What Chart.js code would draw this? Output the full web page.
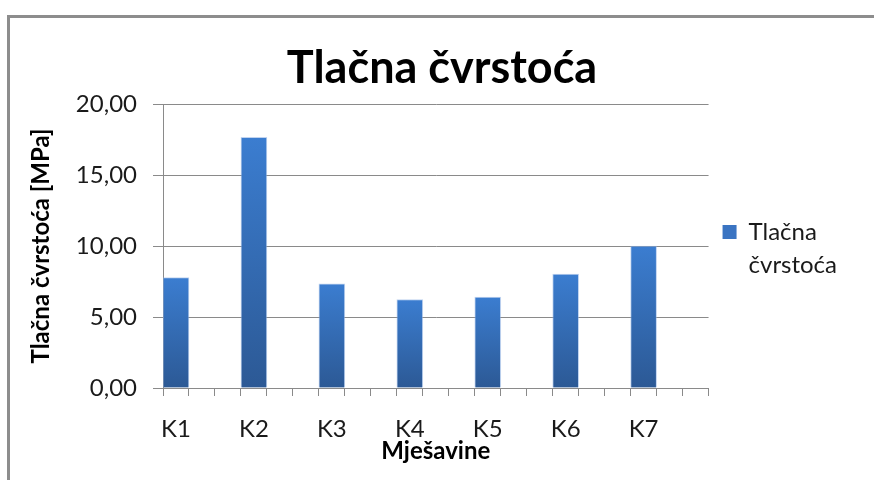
<!DOCTYPE html>
<html>
<head>
<meta charset="utf-8">
<script src="https://cdn.jsdelivr.net/npm/chart.js@4/dist/chart.umd.min.js"></script>
<style>
  html, body { margin: 0; padding: 0; background: #fff; overflow: hidden; }
  #frame {
    position: absolute; left: 7px; top: 15px;
    width: 900px; height: 500px;
    border: 3px solid #8d8d8d; box-sizing: border-box;
  }
  #c { position: absolute; left: 0; top: 0; }
</style>
</head>
<body>
<div id="frame"></div>
<canvas id="c" width="874" height="480"></canvas>
<script>
// Compressive strength per mix [MPa]
const mixes = ['K1', 'K2', 'K3', 'K4', 'K5', 'K6', 'K7'];
const strength = [7.77, 17.65, 7.34, 6.23, 6.40, 8.02, 10.00];
const yTicks = [0, 5, 10, 15, 20];
const seriesName = 'Tlačna čvrstoća';

// Each mix is followed by two empty category slots on the axis
const slotLabels = mixes.flatMap(m => [m, '', '']);
const slotValues = strength.flatMap(v => [v, null, null]);

const FONT = 'Lato';
const GRID = '#8a8a8a';

function barGradient(ctx) {
  const chart = ctx.chart;
  const y = chart.scales && chart.scales.y;
  if (!chart.chartArea || !y || ctx.parsed == null || ctx.parsed.y == null) return '#3a73c0';
  const top = y.getPixelForValue(ctx.parsed.y);
  const base = y.getPixelForValue(0);
  const g = chart.ctx.createLinearGradient(0, top, 0, base);
  g.addColorStop(0, '#3b7dd0');
  g.addColorStop(1, '#2c5995');
  return g;
}

new Chart(document.getElementById('c'), {
  type: 'bar',
  data: {
    labels: slotLabels,
    datasets: [{
      label: seriesName,
      data: slotValues,
      backgroundColor: barGradient,
      borderColor: 'rgba(140,175,225,0.55)',
      borderWidth: 1,
      categoryPercentage: 1,
      barPercentage: 1
    }]
  },
  options: {
    responsive: false,
    devicePixelRatio: 1,
    animation: false,
    layout: { padding: { left: 37, right: 27, top: 0, bottom: 0 } },
    plugins: {
      tooltip: { enabled: false },
      title: {
        display: true,
        text: seriesName,
        color: '#000',
        font: { family: FONT, size: 45, weight: 'bold', lineHeight: 1.2 },
        padding: { top: 41, bottom: 9 }
      },
      legend: {
        position: 'right',
        // empty spacer title pushes the legend entry slightly lower
        title: {
          display: true,
          text: '',
          font: { family: FONT, size: 1, lineHeight: 1.2 },
          padding: { top: 0, bottom: 26 }
        },
        labels: {
          color: '#1a1a1a',
          font: { family: FONT, size: 24, lineHeight: 1.4 },
          boxWidth: 14,
          boxHeight: 14,
          padding: 14,
          generateLabels(chart) {
            const items = Chart.defaults.plugins.legend.labels.generateLabels(chart);
            return items.map(it => Object.assign(it, {
              text: it.text.split(' '),
              fillStyle: '#3a74c2',
              strokeStyle: '#3a74c2',
              lineWidth: 0
            }));
          }
        }
      }
    },
    scales: {
      x: {
        offset: true,
        grid: {
          offset: true,
          drawOnChartArea: false,
          drawTicks: true,
          tickLength: 8,
          color: GRID
        },
        border: { display: true, color: GRID },
        ticks: {
          autoSkip: false,
          maxRotation: 0,
          color: '#1a1a1a',
          padding: 19,
          font: { family: FONT, size: 24 }
        },
        title: {
          display: true,
          text: 'Mješavine',
          color: '#000',
          font: { family: FONT, size: 24, weight: 'bold', lineHeight: 1.2 },
          padding: { top: 0, bottom: 14 }
        },
        afterFit(scale) { scale.height = 92; }
      },
      y: {
        min: 0,
        max: 20,
        afterBuildTicks(scale) { scale.ticks = yTicks.map(v => ({ value: v })); },
        grid: { color: GRID, tickLength: 10 },
        border: { display: true, color: GRID },
        ticks: {
          color: '#1a1a1a',
          padding: 16,
          font: { family: FONT, size: 24 },
          callback: v => v.toFixed(2).replace('.', ',')
        },
        title: {
          display: true,
          text: 'Tlačna čvrstoća [MPa]',
          color: '#000',
          font: { family: FONT, size: 24, weight: 'bold', lineHeight: 1.2 },
          padding: { top: -10, bottom: 0 }
        },
        afterFit(scale) { scale.width = 126; }
      }
    }
  }
});
</script>
</body>
</html>
